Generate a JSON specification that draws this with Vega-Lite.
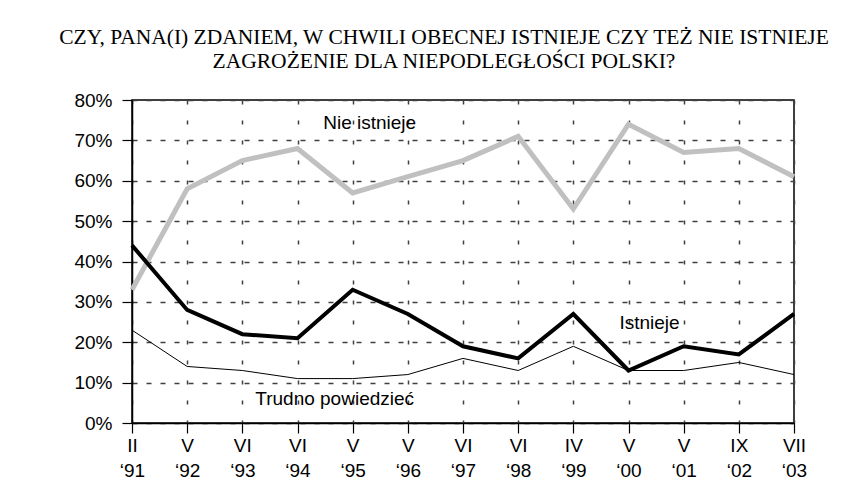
{
  "$schema": "https://vega.github.io/schema/vega-lite/v6.json",
  "width": 662,
  "height": 323,
  "autosize": {"type": "none"},
  "padding": {"left": 132, "top": 100, "right": 74, "bottom": 70},
  "background": "white",
  "title": {
    "text": ["CZY, PANA(I) ZDANIEM, W CHWILI OBECNEJ ISTNIEJE CZY TEŻ NIE ISTNIEJE", "ZAGROŻENIE DLA NIEPODLEGŁOŚCI POLSKI?"],
    "font": "Liberation Serif",
    "fontSize": 21.5,
    "fontWeight": "normal",
    "color": "black",
    "anchor": "middle",
    "frame": "group",
    "dx": -19,
    "offset": 19,
    "lineHeight": 24
  },
  "config": {
    "view": {"stroke": "black", "strokeWidth": 1.5},
    "axis": {
      "labelFont": "Liberation Sans",
      "labelFontSize": 19,
      "labelColor": "black",
      "domainColor": "black",
      "domainWidth": 1.5,
      "tickColor": "black",
      "tickWidth": 1.2,
      "tickSize": 10,
      "title": null,
      "grid": true,
      "gridWidth": 1.5
    },
    "axisX": {"gridColor": "#404040", "gridDash": [4, 16]},
    "axisY": {"gridColor": "#404040", "gridDash": [5, 9]}
  },
  "data": {
    "values": [
      {"okres": "II\n‘91", "seria": "Nie istnieje", "wartosc": 33},
      {"okres": "V\n‘92", "seria": "Nie istnieje", "wartosc": 58},
      {"okres": "VI\n‘93", "seria": "Nie istnieje", "wartosc": 65},
      {"okres": "VI\n‘94", "seria": "Nie istnieje", "wartosc": 68},
      {"okres": "V\n‘95", "seria": "Nie istnieje", "wartosc": 57},
      {"okres": "V\n‘96", "seria": "Nie istnieje", "wartosc": 61},
      {"okres": "VI\n‘97", "seria": "Nie istnieje", "wartosc": 65},
      {"okres": "VI\n‘98", "seria": "Nie istnieje", "wartosc": 71},
      {"okres": "IV\n‘99", "seria": "Nie istnieje", "wartosc": 53},
      {"okres": "V\n‘00", "seria": "Nie istnieje", "wartosc": 74},
      {"okres": "V\n‘01", "seria": "Nie istnieje", "wartosc": 67},
      {"okres": "IX\n‘02", "seria": "Nie istnieje", "wartosc": 68},
      {"okres": "VII\n‘03", "seria": "Nie istnieje", "wartosc": 61},
      {"okres": "II\n‘91", "seria": "Istnieje", "wartosc": 44},
      {"okres": "V\n‘92", "seria": "Istnieje", "wartosc": 28},
      {"okres": "VI\n‘93", "seria": "Istnieje", "wartosc": 22},
      {"okres": "VI\n‘94", "seria": "Istnieje", "wartosc": 21},
      {"okres": "V\n‘95", "seria": "Istnieje", "wartosc": 33},
      {"okres": "V\n‘96", "seria": "Istnieje", "wartosc": 27},
      {"okres": "VI\n‘97", "seria": "Istnieje", "wartosc": 19},
      {"okres": "VI\n‘98", "seria": "Istnieje", "wartosc": 16},
      {"okres": "IV\n‘99", "seria": "Istnieje", "wartosc": 27},
      {"okres": "V\n‘00", "seria": "Istnieje", "wartosc": 13},
      {"okres": "V\n‘01", "seria": "Istnieje", "wartosc": 19},
      {"okres": "IX\n‘02", "seria": "Istnieje", "wartosc": 17},
      {"okres": "VII\n‘03", "seria": "Istnieje", "wartosc": 27},
      {"okres": "II\n‘91", "seria": "Trudno powiedzieć", "wartosc": 23},
      {"okres": "V\n‘92", "seria": "Trudno powiedzieć", "wartosc": 14},
      {"okres": "VI\n‘93", "seria": "Trudno powiedzieć", "wartosc": 13},
      {"okres": "VI\n‘94", "seria": "Trudno powiedzieć", "wartosc": 11},
      {"okres": "V\n‘95", "seria": "Trudno powiedzieć", "wartosc": 11},
      {"okres": "V\n‘96", "seria": "Trudno powiedzieć", "wartosc": 12},
      {"okres": "VI\n‘97", "seria": "Trudno powiedzieć", "wartosc": 16},
      {"okres": "VI\n‘98", "seria": "Trudno powiedzieć", "wartosc": 13},
      {"okres": "IV\n‘99", "seria": "Trudno powiedzieć", "wartosc": 19},
      {"okres": "V\n‘00", "seria": "Trudno powiedzieć", "wartosc": 13},
      {"okres": "V\n‘01", "seria": "Trudno powiedzieć", "wartosc": 13},
      {"okres": "IX\n‘02", "seria": "Trudno powiedzieć", "wartosc": 15},
      {"okres": "VII\n‘03", "seria": "Trudno powiedzieć", "wartosc": 12}
    ]
  },
  "encoding": {
    "x": {
      "field": "okres",
      "type": "ordinal",
      "sort": null,
      "scale": {"type": "point", "padding": 0},
      "axis": {
        "labelAngle": 0,
        "labelExpr": "split(datum.label, '\\n')",
        "labelLineHeight": 25,
        "labelPadding": 3
      }
    },
    "y": {
      "field": "wartosc",
      "type": "quantitative",
      "scale": {"domain": [0, 80], "nice": false},
      "axis": {
        "values": [0, 10, 20, 30, 40, 50, 60, 70, 80],
        "labelExpr": "datum.value + '%'",
        "labelPadding": 10
      }
    }
  },
  "layer": [
    {
      "transform": [{"filter": "datum.seria === 'Nie istnieje'"}],
      "mark": {"type": "line", "color": "#c0c0c0", "strokeWidth": 5}
    },
    {
      "transform": [{"filter": "datum.seria === 'Istnieje'"}],
      "mark": {"type": "line", "color": "black", "strokeWidth": 4}
    },
    {
      "transform": [{"filter": "datum.seria === 'Trudno powiedzieć'"}],
      "mark": {"type": "line", "color": "black", "strokeWidth": 1}
    },
    {
      "data": {"values": [{"etykieta": "Nie istnieje", "okres": "V\n‘95", "wartosc": 74.3}]},
      "mark": {"type": "text", "font": "Liberation Sans", "fontSize": 19, "color": "black", "align": "center", "baseline": "middle", "dx": 17},
      "encoding": {"text": {"field": "etykieta"}}
    },
    {
      "data": {"values": [{"etykieta": "Istnieje", "okres": "V\n‘00", "wartosc": 24.8}]},
      "mark": {"type": "text", "font": "Liberation Sans", "fontSize": 19, "color": "black", "align": "center", "baseline": "middle", "dx": 21},
      "encoding": {"text": {"field": "etykieta"}}
    },
    {
      "data": {"values": [{"etykieta": "Trudno powiedzieć", "okres": "V\n‘95", "wartosc": 6}]},
      "mark": {"type": "text", "font": "Liberation Sans", "fontSize": 19, "color": "black", "align": "center", "baseline": "middle", "dx": -18},
      "encoding": {"text": {"field": "etykieta"}}
    }
  ]
}
